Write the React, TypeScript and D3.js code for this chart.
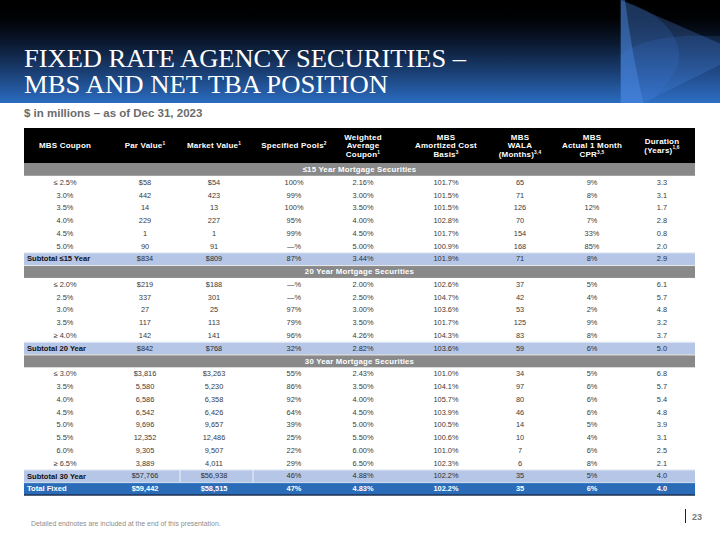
import React from "react";
import * as d3 from "d3";

// ---------- DATA ----------
const titleLines = ["FIXED RATE AGENCY SECURITIES –", "MBS AND NET TBA POSITION"];
const subtitle = "$ in millions – as of Dec 31, 2023";
const footnote = "Detailed endnotes are included at the end of this presentation.";
const pageNumber = "23";

// header: each column is a list of [text, superscript] lines
const headers: [string, string][][] = [
  [["MBS Coupon", ""]],
  [["Par Value", "1"]],
  [["Market Value", "1"]],
  [["Specified Pools", "2"]],
  [["Weighted", ""], ["Average", ""], ["Coupon", "1"]],
  [["MBS", ""], ["Amortized Cost", ""], ["Basis", "3"]],
  [["MBS", ""], ["WALA", ""], ["(Months)", "3,4"]],
  [["MBS", ""], ["Actual 1 Month", ""], ["CPR", "3,5"]],
  [["Duration", ""], ["(Years)", "1,6"]],
];

const section15Title = "≤15 Year Mortgage Securities";
const section15Rows = [
  ["≤ 2.5%", "$58", "$54", "100%", "2.16%", "101.7%", "65", "9%", "3.3"],
  ["3.0%", "442", "423", "99%", "3.00%", "101.5%", "71", "8%", "3.1"],
  ["3.5%", "14", "13", "100%", "3.50%", "101.5%", "126", "12%", "1.7"],
  ["4.0%", "229", "227", "95%", "4.00%", "102.8%", "70", "7%", "2.8"],
  ["4.5%", "1", "1", "99%", "4.50%", "101.7%", "154", "33%", "0.8"],
  ["5.0%", "90", "91", "—%", "5.00%", "100.9%", "168", "85%", "2.0"],
];
const section15Subtotal = ["Subtotal ≤15 Year", "$834", "$809", "87%", "3.44%", "101.9%", "71", "8%", "2.9"];

const section20Title = "20 Year Mortgage Securities";
const section20Rows = [
  ["≤ 2.0%", "$219", "$188", "—%", "2.00%", "102.6%", "37", "5%", "6.1"],
  ["2.5%", "337", "301", "—%", "2.50%", "104.7%", "42", "4%", "5.7"],
  ["3.0%", "27", "25", "97%", "3.00%", "103.6%", "53", "2%", "4.8"],
  ["3.5%", "117", "113", "79%", "3.50%", "101.7%", "125", "9%", "3.2"],
  ["≥ 4.0%", "142", "141", "96%", "4.26%", "104.3%", "83", "8%", "3.7"],
];
const section20Subtotal = ["Subtotal 20 Year", "$842", "$768", "32%", "2.82%", "103.6%", "59", "6%", "5.0"];

const section30Title = "30 Year Mortgage Securities";
const section30Rows = [
  ["≤ 3.0%", "$3,816", "$3,263", "55%", "2.43%", "101.0%", "34", "5%", "6.8"],
  ["3.5%", "5,580", "5,230", "86%", "3.50%", "104.1%", "97", "6%", "5.7"],
  ["4.0%", "6,586", "6,358", "92%", "4.00%", "105.7%", "80", "6%", "5.4"],
  ["4.5%", "6,542", "6,426", "64%", "4.50%", "103.9%", "46", "6%", "4.8"],
  ["5.0%", "9,696", "9,657", "39%", "5.00%", "100.5%", "14", "5%", "3.9"],
  ["5.5%", "12,352", "12,486", "25%", "5.50%", "100.6%", "10", "4%", "3.1"],
  ["6.0%", "9,305", "9,507", "22%", "6.00%", "101.0%", "7", "6%", "2.5"],
  ["≥ 6.5%", "3,889", "4,011", "29%", "6.50%", "102.3%", "6", "8%", "2.1"],
];
const section30Subtotal = ["Subtotal 30 Year", "$57,766", "$56,938", "46%", "4.88%", "102.2%", "35", "5%", "4.0"];
const totalFixed = ["Total Fixed", "$59,442", "$58,515", "47%", "4.83%", "102.2%", "35", "6%", "4.0"];

// ---------- LAYOUT ----------
const W = 720;
const H = 540;
const tableLeft = 24;
const tableRight = 695;
const headerTop = 128;
const headerBottom = 163;
const tableBottom = 495;
const colCenters = [65, 145, 214, 294, 363, 446, 520, 592, 662];
const sub30Separators = [180, 253];
const SANS = "'Liberation Sans', Arial, Helvetica, sans-serif";
const SERIF = "'Liberation Serif', 'DejaVu Serif', 'Times New Roman', serif";

type Row =
  | { kind: "section"; label: string }
  | { kind: "data"; cells: string[] }
  | { kind: "subtotal"; cells: string[]; seps?: boolean }
  | { kind: "total"; cells: string[] };

const rows: Row[] = [
  { kind: "section", label: section15Title },
  ...section15Rows.map((c) => ({ kind: "data" as const, cells: c })),
  { kind: "subtotal", cells: section15Subtotal },
  { kind: "section", label: section20Title },
  ...section20Rows.map((c) => ({ kind: "data" as const, cells: c })),
  { kind: "subtotal", cells: section20Subtotal },
  { kind: "section", label: section30Title },
  ...section30Rows.map((c) => ({ kind: "data" as const, cells: c })),
  { kind: "subtotal", cells: section30Subtotal, seps: true },
  { kind: "total", cells: totalFixed },
];

export default function App() {
  const y = d3.scaleLinear().domain([0, rows.length]).range([headerBottom, tableBottom]);
  const rh = y(1) - y(0);
  const headerMid = (headerTop + headerBottom) / 2;
  const lineGap = 8.4;
  const sans = { fontFamily: SANS };
  const serif = { fontFamily: SERIF };

  return (
    <svg
      width={W}
      height={H}
      viewBox={`0 0 ${W} ${H}`}
      style={{ position: "absolute", left: 0, top: 0, display: "block", background: "#fff" }}
    >
      <defs>
        <linearGradient id="banner" x1="0" y1="0" x2="0" y2="1">
          <stop offset="0" stopColor="#000000" />
          <stop offset="0.18" stopColor="#010204" />
          <stop offset="0.42" stopColor="#0b1930" />
          <stop offset="0.7" stopColor="#1a3f74" />
          <stop offset="1" stopColor="#2b6cc0" />
        </linearGradient>
        <clipPath id="bannerClip">
          <rect x={0} y={0} width={W} height={103} />
        </clipPath>
      </defs>

      {/* Banner */}
      <rect x={0} y={0} width={W} height={103} fill="url(#banner)" />
      <g clipPath="url(#bannerClip)">
        <path d="M620.7,0 L743,53.6 L620.7,114 Z" fill="#4a86dd" opacity={0.28} />
        <path d="M620.7,0 C668,14 684,44 678,64 C672,82 655,96 642,110 L620.7,110 Z" fill="#3c78d2" opacity={0.2} />
        <path d="M620.7,55 C640,38 680,33 730,37 L730,110 L620.7,110 Z" fill="#3b7bd8" opacity={0.18} />
        <path d="M620.7,0 L625,0 Q632,55 645,110 L620.7,110 Z" fill="#4f92ea" opacity={0.4} />
      </g>

      {/* Title */}
      <text x={24} y={67} fill="#fff" style={serif} fontSize={26}
        textLength={442} lengthAdjust="spacingAndGlyphs">{titleLines[0]}</text>
      <text x={24} y={93} fill="#fff" style={serif} fontSize={26}
        textLength={364} lengthAdjust="spacingAndGlyphs">{titleLines[1]}</text>

      {/* Subtitle */}
      <text x={24} y={117} fill="#6b6b6b" style={sans} fontSize={11.5} fontWeight="bold">{subtitle}</text>

      {/* Table header */}
      <rect x={tableLeft} y={headerTop} width={tableRight - tableLeft} height={headerBottom - headerTop} fill="#000" />
      {headers.map((lines, ci) => {
        const n = lines.length;
        return lines.map(([t, sup], li) => {
          const cy = headerMid + (li - (n - 1) / 2) * lineGap;
          return (
            <text key={`h${ci}-${li}`} x={colCenters[ci]} y={cy + 2.8} textAnchor="middle" fill="#fff"
              style={sans} fontSize={8} fontWeight="bold" letterSpacing={0.2}>
              {t}
              {sup ? <tspan fontSize={4.8} dy={-3.2}>{sup}</tspan> : null}
            </text>
          );
        });
      })}

      {/* Table rows */}
      {rows.map((r, i) => {
        const top = y(i);
        const mid = top + rh / 2;
        if (r.kind === "section") {
          return (
            <g key={i}>
              <rect x={tableLeft} y={top} width={tableRight - tableLeft} height={rh} fill="#898989" />
              {i > 0 && <line x1={tableLeft} x2={tableRight} y1={top + 0.4} y2={top + 0.4} stroke="#fff" strokeWidth={0.8} />}
              <text x={(tableLeft + tableRight) / 2} y={mid + 2.8} textAnchor="middle" fill="#fff" style={sans} fontSize={7.8}
                fontWeight="bold" letterSpacing={0.2}>{r.label}</text>
            </g>
          );
        }
        if (r.kind === "data") {
          return (
            <g key={i}>
              {r.cells.map((c, ci) => (
                <text key={ci} x={colCenters[ci]} y={mid + 2.6} textAnchor="middle" fill="#3a3a3a" style={sans} fontSize={7.4}>{c}</text>
              ))}
            </g>
          );
        }
        const isTotal = r.kind === "total";
        return (
          <g key={i}>
            <rect x={tableLeft} y={top} width={tableRight - tableLeft} height={rh} fill={isTotal ? "#2b6cb9" : "#b5c6e7"} />
            <line x1={tableLeft} x2={tableRight} y1={top + 0.4} y2={top + 0.4} stroke="#fff" strokeWidth={0.8} />
            {r.kind === "subtotal" && r.seps &&
              sub30Separators.map((sx) => (
                <line key={sx} x1={sx} x2={sx} y1={top} y2={top + rh} stroke="#fff" strokeWidth={0.8} />
              ))}
            {isTotal && <line x1={tableLeft} x2={tableRight} y1={top + rh} y2={top + rh} stroke="#1c2f4f" strokeWidth={1.6} />}
            {r.cells.map((c, ci) =>
              ci === 0 ? (
                <text key={ci} x={tableLeft + 3} y={mid + 2.7} fill={isTotal ? "#fff" : "#111"} style={sans} fontSize={7.6} fontWeight="bold">{c}</text>
              ) : (
                <text key={ci} x={colCenters[ci]} y={mid + 2.6} textAnchor="middle" fill={isTotal ? "#fff" : "#2f2f2f"}
                  style={sans} fontSize={7.4} fontWeight={isTotal ? "bold" : "normal"}>{c}</text>
              )
            )}
          </g>
        );
      })}

      {/* Footer */}
      <text x={31} y={525.5} fill="#8d8d8d" style={sans} fontSize={6.9}>{footnote}</text>
      <line x1={685.5} x2={685.5} y1={509} y2={523} stroke="#222" strokeWidth={1} />
      <text x={692} y={520} fill="#7a7a7a" style={sans} fontSize={9} fontWeight="bold">{pageNumber}</text>
    </svg>
  );
}
